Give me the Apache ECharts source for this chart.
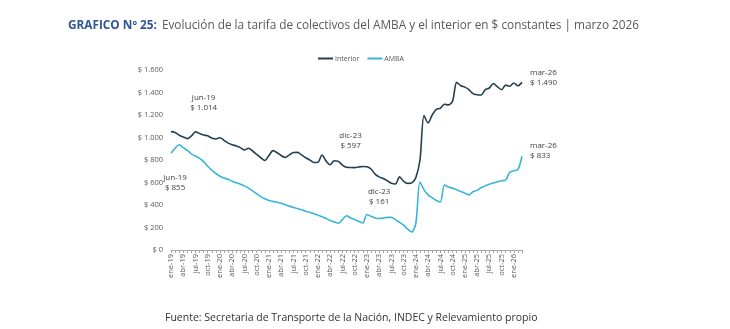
<!DOCTYPE html>
<html>
<head>
<meta charset="utf-8">
<script src="https://cdn.jsdelivr.net/npm/echarts@6/dist/echarts.min.js"></script>
<style>
  html, body { margin: 0; padding: 0; background: #fff; }
  #chart { width: 730px; height: 329px; }
</style>
</head>
<body>
<div id="chart"></div>
<script>
var meses = ['ene', 'feb', 'mar', 'abr', 'may', 'jun', 'jul', 'ago', 'sep', 'oct', 'nov', 'dic'];
var categorias = [];
for (var a = 19; a <= 26; a++) {
  for (var m = 0; m < 12; m++) {
    if (a === 26 && m > 2) break;
    categorias.push(meses[m] + '-' + a);
  }
}

// tarifa en $ constantes, mensual ene-19 .. mar-26
var interior = [
  1052, 1045, 1020, 1005, 990, 1014, 1050, 1035, 1022, 1015, 995, 987,
  998, 975, 950, 935, 925, 910, 889, 905, 880, 850, 820, 795,
  840, 883, 865, 840, 822, 845, 866, 868, 845, 820, 800, 778,
  780, 844, 790, 758, 794, 788, 755, 735, 733, 732, 738, 742,
  740, 720, 675, 650, 635, 615, 593, 587, 650, 610, 592, 597,
  645, 800, 1195, 1130, 1200, 1250, 1260, 1295, 1290, 1325, 1490, 1460,
  1448, 1425, 1390, 1380, 1378, 1425, 1440, 1480, 1450, 1425, 1466, 1455,
  1485, 1460, 1490
];
var amba = [
  860, 905, 935, 910, 885, 855, 835, 815, 785, 745, 710, 680,
  655, 640, 628, 612, 598, 585, 570, 550, 525, 500, 475, 455,
  440, 432, 425, 415, 403, 390, 378, 368, 358, 345, 335, 322,
  310, 295, 280, 262, 250, 238, 270, 305, 285, 270, 255, 240,
  315, 300, 285, 280, 283, 290, 290, 270, 245, 222, 185, 161,
  240, 605, 535, 490, 465, 440, 428, 578, 560, 548, 535, 520,
  505, 490, 518, 530, 555, 570, 585, 595, 607, 615, 622, 690,
  705, 715, 833
];

// anotaciones: [indice de mes donde va el texto, valor donde va el texto, texto]
var notasInterior = [[7.5, 1307, 'jun-19\n$ 1.014'], [44.4, 969, 'dic-23\n$ 597']];
var notasAmba = [[1, 600, 'jun-19\n$ 855'], [50.9, 471, 'dic-23\n$ 161']];

var cInterior = '#243f50';
var cAmba = '#38b6d8';

function fmtPesos(v) {
  return '$ ' + String(v).replace(/\B(?=(\d{3})+(?!\d))/g, '.');
}

function notas(lista) {
  return lista.map(function (n) {
    return { coord: [n[0], n[1]], value: n[2] };
  });
}

var chart = echarts.init(document.getElementById('chart'));

var etiqueta = {
  show: true,
  color: '#404040',
  fontSize: 8,
  lineHeight: 10,
  fontFamily: 'Open Sans',
  formatter: function (p) { return p.value; }
};

var option = {
  animation: false,
  title: {
    left: 63,
    top: 12,
    text: '{b|GRAFICO Nº 25:} {r|Evolución de la tarifa de colectivos del AMBA y el interior en $ constantes | marzo 2026}',
    textStyle: {
      rich: {
        b: { fontFamily: 'Open Sans', fontWeight: 'bold', fontSize: 11.8, color: '#2f5597' },
        r: { fontFamily: 'Open Sans', fontWeight: 'normal', fontSize: 11.8, color: '#595959' }
      }
    }
  },
  legend: {
    top: 50,
    left: 313,
    itemWidth: 15,
    itemHeight: 2,
    itemGap: 8,
    icon: 'rect',
    textStyle: { fontSize: 7, color: '#595959', fontFamily: 'Open Sans', padding: [0, 0, 0, -3] },
    data: ['Interior', 'AMBA']
  },
  grid: { left: 171, right: 208, top: 70, bottom: 79 },
  xAxis: {
    type: 'category',
    boundaryGap: false,
    data: categorias,
    axisLine: { lineStyle: { color: '#a6a6a6' } },
    axisTick: { interval: 0, length: 3, lineStyle: { color: '#a6a6a6' } },
    axisLabel: {
      interval: 2,
      rotate: 90,
      fontSize: 7.5,
      margin: 4,
      color: '#595959',
      fontFamily: 'Open Sans'
    }
  },
  yAxis: {
    type: 'value',
    min: 0,
    max: 1600,
    interval: 200,
    splitLine: { show: false },
    axisLine: { show: false },
    axisTick: { show: false },
    axisLabel: {
      fontSize: 7.5,
      margin: 8,
      color: '#595959',
      fontFamily: 'Open Sans',
      formatter: fmtPesos
    }
  },
  graphic: [{
    type: 'text',
    left: 165,
    top: 313,
    style: {
      text: 'Fuente: Secretaria de Transporte de la Nación, INDEC y Relevamiento propio',
      fontSize: 10.5,
      fontFamily: 'Open Sans',
      fill: '#333333'
    }
  }],
  series: [{
    name: 'Interior',
    type: 'line',
    data: interior,
    smooth: 0.3,
    symbol: 'none',
    lineStyle: { color: cInterior, width: 1.6 },
    itemStyle: { color: cInterior },
    markPoint: {
      symbolSize: 0,
      label: etiqueta,
      data: notas(notasInterior).concat([{
        coord: [categorias.length - 1, interior[interior.length - 1]],
        value: 'mar-26\n' + fmtPesos(interior[interior.length - 1]),
        label: { position: 'right', distance: 8, offset: [0, -5], align: 'left' }
      }])
    }
  }, {
    name: 'AMBA',
    type: 'line',
    data: amba,
    smooth: 0.3,
    symbol: 'none',
    lineStyle: { color: cAmba, width: 1.6 },
    itemStyle: { color: cAmba },
    markPoint: {
      symbolSize: 0,
      label: etiqueta,
      data: notas(notasAmba).concat([{
        coord: [categorias.length - 1, amba[amba.length - 1]],
        value: 'mar-26\n' + fmtPesos(amba[amba.length - 1]),
        label: { position: 'right', distance: 8, offset: [0, -6], align: 'left' }
      }])
    }
  }]
};

chart.setOption(option);
</script>
</body>
</html>
